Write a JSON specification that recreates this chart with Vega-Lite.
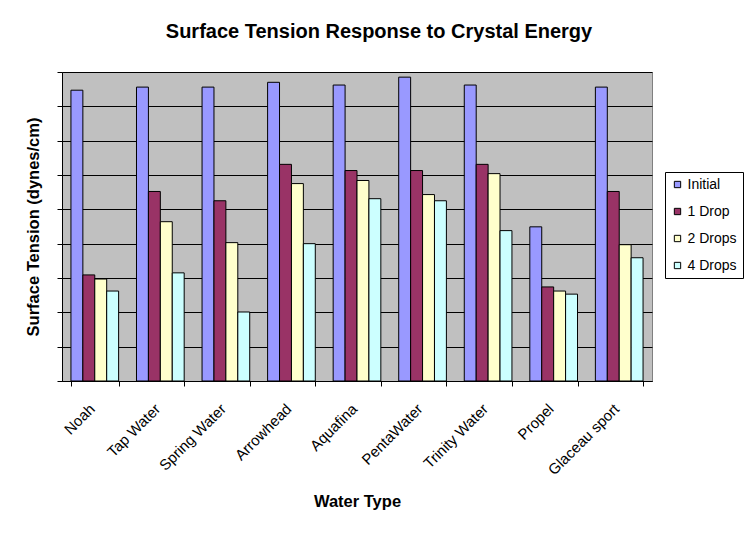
{
  "$schema": "https://vega.github.io/schema/vega-lite/v6.json",
  "width": 590,
  "height": 309,
  "autosize": {"type": "none"},
  "padding": {"left": 62, "top": 72, "right": 103, "bottom": 152},
  "background": "white",
  "title": {
    "text": "Surface Tension Response to Crystal Energy",
    "font": "Liberation Sans",
    "fontSize": 20,
    "fontWeight": "bold",
    "color": "black",
    "anchor": "middle",
    "dx": 22,
    "offset": 30
  },
  "data": {
    "values": [
      {"water": "Noah", "series": "Initial", "value": 8.47},
      {"water": "Noah", "series": "1 Drop", "value": 3.09},
      {"water": "Noah", "series": "2 Drops", "value": 2.97},
      {"water": "Noah", "series": "4 Drops", "value": 2.62},
      {"water": "Tap Water", "series": "Initial", "value": 8.56},
      {"water": "Tap Water", "series": "1 Drop", "value": 5.52},
      {"water": "Tap Water", "series": "2 Drops", "value": 4.64},
      {"water": "Tap Water", "series": "4 Drops", "value": 3.15},
      {"water": "Spring Water", "series": "Initial", "value": 8.56},
      {"water": "Spring Water", "series": "1 Drop", "value": 5.25},
      {"water": "Spring Water", "series": "2 Drops", "value": 4.03},
      {"water": "Spring Water", "series": "4 Drops", "value": 2.01},
      {"water": "Arrowhead", "series": "Initial", "value": 8.7},
      {"water": "Arrowhead", "series": "1 Drop", "value": 6.31},
      {"water": "Arrowhead", "series": "2 Drops", "value": 5.75},
      {"water": "Arrowhead", "series": "4 Drops", "value": 4.0},
      {"water": "Aquafina", "series": "Initial", "value": 8.62},
      {"water": "Aquafina", "series": "1 Drop", "value": 6.13},
      {"water": "Aquafina", "series": "2 Drops", "value": 5.84},
      {"water": "Aquafina", "series": "4 Drops", "value": 5.31},
      {"water": "PentaWater", "series": "Initial", "value": 8.85},
      {"water": "PentaWater", "series": "1 Drop", "value": 6.13},
      {"water": "PentaWater", "series": "2 Drops", "value": 5.43},
      {"water": "PentaWater", "series": "4 Drops", "value": 5.25},
      {"water": "Trinity Water", "series": "Initial", "value": 8.62},
      {"water": "Trinity Water", "series": "1 Drop", "value": 6.31},
      {"water": "Trinity Water", "series": "2 Drops", "value": 6.04},
      {"water": "Trinity Water", "series": "4 Drops", "value": 4.38},
      {"water": "Propel", "series": "Initial", "value": 4.49},
      {"water": "Propel", "series": "1 Drop", "value": 2.74},
      {"water": "Propel", "series": "2 Drops", "value": 2.62},
      {"water": "Propel", "series": "4 Drops", "value": 2.53},
      {"water": "Glaceau sport", "series": "Initial", "value": 8.56},
      {"water": "Glaceau sport", "series": "1 Drop", "value": 5.52},
      {"water": "Glaceau sport", "series": "2 Drops", "value": 3.97},
      {"water": "Glaceau sport", "series": "4 Drops", "value": 3.59}
    ]
  },
  "mark": {"type": "bar", "stroke": "black", "strokeWidth": 1},
  "encoding": {
    "x": {
      "field": "water",
      "type": "nominal",
      "sort": null,
      "scale": {"paddingInner": 0.2727, "paddingOuter": 0.1364},
      "axis": {
        "title": "Water Type",
        "titleFont": "Liberation Sans",
        "titleFontSize": 16.5,
        "titleFontWeight": "bold",
        "titleColor": "black",
        "titleY": 120,
        "titleBaseline": "middle",
        "labelFont": "Liberation Sans",
        "labelFontSize": 15,
        "labelColor": "black",
        "labelAngle": -45,
        "labelAlign": "right",
        "labelBaseline": "middle",
        "labelPadding": 20,
        "labelOffset": -3,
        "tickBand": "extent",
        "tickSize": 5,
        "tickColor": "black",
        "domainColor": "black",
        "grid": false
      }
    },
    "xOffset": {
      "field": "series",
      "type": "nominal",
      "sort": ["Initial", "1 Drop", "2 Drops", "4 Drops"],
      "scale": {"paddingInner": 0, "paddingOuter": 0}
    },
    "y": {
      "field": "value",
      "type": "quantitative",
      "scale": {"domain": [0, 9], "nice": false},
      "axis": {
        "title": "Surface Tension (dynes/cm)",
        "titleFont": "Liberation Sans",
        "titleFontSize": 16.5,
        "titleFontWeight": "bold",
        "titleColor": "black",
        "titleX": -29,
        "titleBaseline": "middle",
        "labels": false,
        "values": [0, 1, 2, 3, 4, 5, 6, 7, 8, 9],
        "tickSize": 5,
        "tickColor": "black",
        "domainColor": "black",
        "grid": true,
        "gridColor": "black",
        "gridOpacity": 1,
        "gridWidth": 1
      }
    },
    "color": {
      "field": "series",
      "type": "nominal",
      "sort": ["Initial", "1 Drop", "2 Drops", "4 Drops"],
      "scale": {
        "domain": ["Initial", "1 Drop", "2 Drops", "4 Drops"],
        "range": ["#9999FF", "#993366", "#FFFFCC", "#CCFFFF"]
      },
      "legend": {
        "title": null,
        "orient": "none",
        "legendX": 603,
        "legendY": 100,
        "padding": 5.5,
        "strokeColor": "black",
        "fillColor": "white",
        "symbolType": "square",
        "symbolSize": 40,
        "symbolStrokeColor": "black",
        "symbolStrokeWidth": 1,
        "labelFont": "Liberation Sans",
        "labelFontSize": 14,
        "labelColor": "black",
        "labelOffset": 3,
        "rowPadding": 13
      }
    }
  },
  "config": {
    "view": {"fill": "#C0C0C0", "stroke": "#808080", "strokeWidth": 1},
    "axis": {"domainWidth": 1, "tickWidth": 1}
  }
}
